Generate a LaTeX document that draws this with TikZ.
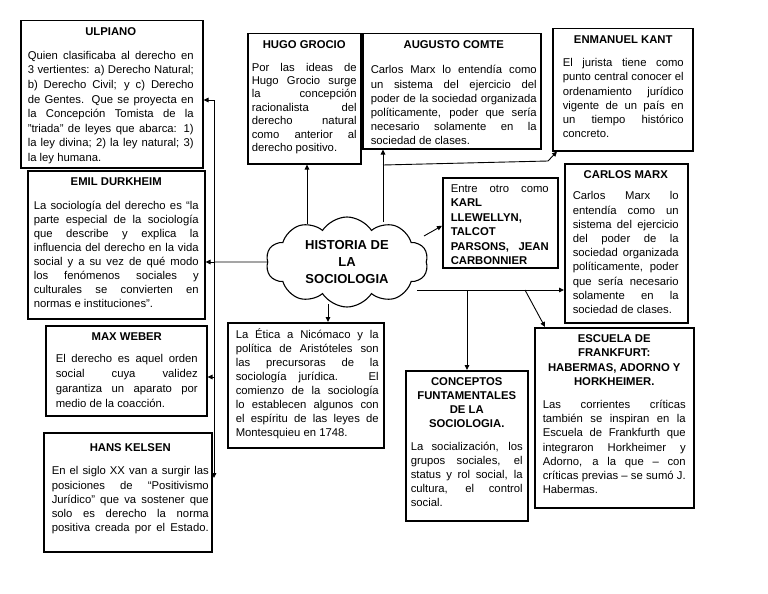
\documentclass[tikz,border=0pt]{standalone}
\usepackage{fontspec}
\setmainfont{Liberation Sans}
\usetikzlibrary{shapes.symbols,arrows.meta}
\newcommand\jl[1]{\makebox[\linewidth][s]{#1}\\}
\newcommand\tl[1]{\makebox[\linewidth][c]{\bfseries #1}\\}
\newcommand\ttl[2][9pt]{\makebox[\linewidth][c]{\bfseries #2}\\[#1]}
% name, x, y, w, h, inset, textwidth, topmargin, content
\newcommand\mybox[9]{\node[cbx, minimum width=#4pt, minimum height=#5pt] (#1) at (#2,#3) {\parbox[c][#5pt][t]{#4pt}{\vspace*{#8pt}\hspace*{#6pt}\parbox[t]{#7pt}{\fontsize{11.3}{14.2}\selectfont #9}}};}
\begin{document}
\begin{tikzpicture}[x=1pt,y=-1pt,
  cbx/.style={draw, rectangle, line width=1.5pt, anchor=north west, inner sep=0pt},
  conn/.style={draw, line width=0.9pt},
  arr/.style={conn, -{Triangle[length=5pt,width=4.5pt]}}]
\fill[white] (0,0) rectangle (768,594);
\useasboundingbox (0,0) rectangle (768,594);

\mybox{ulp}{20}{20}{182}{147}{7}{166}{7}{\fontsize{11.3}{14.6}\selectfont\ttl{ULPIANO}
\jl{Quien clasificaba al derecho en}
\jl{3 vertientes: a) Derecho Natural;}
\jl{b) Derecho Civil; y c) Derecho}
\jl{de Gentes. Que se proyecta en}
\jl{la Concepción Tomista de la}
\jl{"triada" de leyes que abarca: 1)}
\jl{la ley divina; 2) la ley natural; 3)}
la ley humana.}

\mybox{durk}{27}{170}{177}{148}{6}{165}{7}{\fontsize{11.3}{14}\selectfont\ttl[10pt]{EMIL DURKHEIM}
\jl{La sociología del derecho es “la}
\jl{parte especial de la sociología}
\jl{que describe y explica la}
\jl{influencia del derecho en la vida}
\jl{social y a su vez de qué modo}
\jl{los fenómenos sociales y}
\jl{culturales se convierten en}
normas e instituciones”.}

\mybox{weber}{45}{325}{161}{90}{10}{142}{7}{\fontsize{11.3}{15}\selectfont\ttl[7pt]{MAX WEBER}
\jl{El derecho es aquel orden}
\jl{social cuya validez}
\jl{garantiza un aparato por}
medio de la coacción.}

\mybox{kel}{43}{432}{168}{119}{8}{157}{11}{\ttl{HANS KELSEN}
\jl{En el siglo XX van a surgir las}
\jl{posiciones de “Positivismo}
\jl{Jurídico” que va sostener que}
\jl{solo es derecho la norma}
\makebox[\linewidth][s]{positiva creada por el Estado.}}

\mybox{hugo}{247}{33}{113}{130}{4}{105}{7}{\fontsize{11.3}{13.4}\selectfont\ttl{HUGO GROCIO}
\jl{Por las ideas de}
\jl{Hugo Grocio surge}
\jl{la concepción}
\jl{racionalista del}
\jl{derecho natural}
\jl{como anterior al}
derecho positivo.}

\mybox{comte}{362}{33}{178}{115}{8}{166}{7}{\ttl[11pt]{AUGUSTO COMTE}
\jl{Carlos Marx lo entendía como}
\jl{un sistema del ejercicio del}
\jl{poder de la sociedad organizada}
\jl{políticamente, poder que sería}
\jl{necesario solamente en la}
sociedad de clases.}

\mybox{kant}{552}{28}{140}{122}{10}{121}{7}{\ttl{ENMANUEL KANT}
\jl{El jurista tiene como}
\jl{punto central conocer el}
\jl{ordenamiento jurídico}
\jl{vigente de un país en}
\jl{un tiempo histórico}
concreto.}

\mybox{entre}{442}{177}{115}{90}{8}{98}{7}{\fontsize{11.3}{14.4}\selectfont
\jl{Entre otro como}
\textbf{KARL}\\
\textbf{LLEWELLYN,}\\
\textbf{TALCOT}\\
\jl{\bfseries PARSONS, JEAN}
\textbf{CARBONNIER}}

\mybox{marx}{564}{163}{123}{159}{8}{106}{7}{\ttl[7pt]{CARLOS MARX}
\jl{Carlos Marx lo}
\jl{entendía como un}
\jl{sistema del ejercicio}
\jl{del poder de la}
\jl{sociedad organizada}
\jl{políticamente, poder}
\jl{que sería necesario}
\jl{solamente en la}
sociedad de clases.}

\mybox{arist}{227}{322}{156}{125}{8}{143}{7}{\fontsize{11.3}{14}\selectfont
\jl{La \smash{É}tica a Nicómaco y la}
\jl{política de Aristóteles son}
\jl{las precursoras de la}
\jl{sociología jurídica. El}
\jl{comienzo de la sociología}
\jl{lo establecen algunos con}
\jl{el espíritu de las leyes de}
Montesquieu en 1748.}

\mybox{conc}{405}{370}{122}{150}{5}{112}{7}{\fontsize{11.3}{14}\selectfont\tl{CONCEPTOS}
\tl{FUNTAMENTALES}
\tl{DE LA}
\ttl{SOCIOLOGIA.}
\jl{La socialización, los}
\jl{grupos sociales, el}
\jl{status y rol social, la}
\jl{cultura, el control}
social.}

\mybox{esc}{534}{327}{159}{180}{8}{143}{7}{\tl{ESCUELA DE}
\tl{FRANKFURT:}
\tl{HABERMAS, ADORNO Y}
\ttl{HORKHEIMER.}
\jl{Las corrientes críticas}
\jl{también se inspiran en la}
\jl{Escuela de Frankfurth que}
\jl{integraron Horkheimer y}
\jl{Adorno, a la que – con}
\jl{críticas previas – se sumó J.}
Habermas.}

% central cloud
\node[cloud, cloud puffs=10, cloud puff arc=115, cloud ignores aspect,
  minimum width=162pt, minimum height=90pt, inner sep=0pt, draw, line width=1.1pt,
  align=center, font=\bfseries\fontsize{13}{17}\selectfont] (cloud) at (347,262)
  {HISTORIA DE\\LA\\SOCIOLOGIA};

% junction coordinates
\coordinate (jU) at (214,100);
\coordinate (jL) at (214,262);
\coordinate (jW) at (214,377);
\coordinate (jD) at (214,478);
\coordinate (hA) at (307,224);
\coordinate (cA) at (383,222);
\coordinate (bA) at (383,165);
\coordinate (bB) at (548,161);
\coordinate (eA) at (424,236);
\coordinate (mA) at (417,290);
\coordinate (kA) at (467,290);
\coordinate (sA) at (525,290);
\coordinate (aA) at (328,304);

% left side
\draw[conn] (cloud.west) -- (jL);
\draw[arr] (jU) -- (jD);
\draw[arr] (jU) -- (ulp.east |- jU);
\draw[arr] (jL) -- (durk.east |- jL);
\draw[arr] (jW) -- (weber.east |- jW);

% top
\draw[arr] (hA) -- (hugo.south -| hA);
\draw[arr] (cA) -- (comte.south -| cA);
\draw[conn] (bA) -- (bB);
\draw[arr] (bB) -- ([xshift=5pt]kant.south west);

% right
\draw[arr] (eA) -- ([yshift=-3pt]entre.west);
\draw[arr] (mA) -- (marx.west |- mA);
\draw[arr] (kA) -- (conc.north -| kA);
\draw[arr] (sA) -- ([xshift=11pt]esc.north west);

% bottom
\draw[arr] (aA) -- (arist.north -| aA);
\end{tikzpicture}
\end{document}
